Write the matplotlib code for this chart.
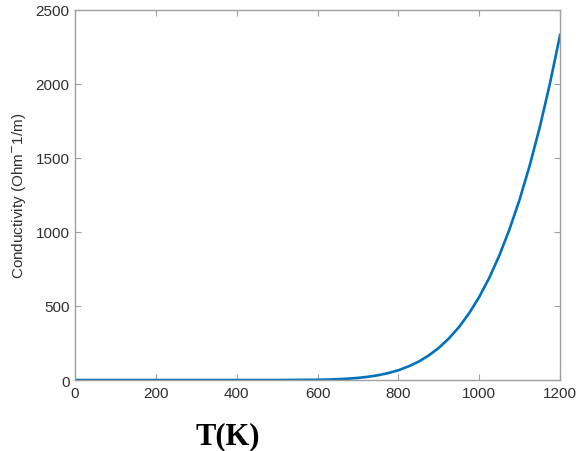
import matplotlib
matplotlib.use("Agg")
from matplotlib import pyplot as plt

# temperature (K) and conductivity (Ohm^-1/m)
T = [0, 100, 200, 300, 400, 500, 600, 625, 650, 675, 700, 725, 750, 775, 800,
     825, 850, 875, 900, 925, 950, 975, 1000, 1025, 1050, 1075, 1100, 1125,
     1150, 1175, 1200]
sigma = [0, 0, 0, 0, 0, 0.1, 1.9, 3.3, 5.6, 9.2, 14.4, 22, 32.5, 47, 66,
         92, 124, 166, 217, 281, 358, 451, 561, 691, 843, 1019, 1220, 1450,
         1710, 2004, 2330]

xticks = [0, 200, 400, 600, 800, 1000, 1200]
yticks = [0, 500, 1000, 1500, 2000, 2500]

axis_grey = "#a0a0a0"
text_grey = "#303030"

fig = plt.figure(figsize=(5.81, 4.52), dpi=100)
ax = fig.add_axes([0.129, 0.157, 0.835, 0.819])

ax.plot(T, sigma, color="#0072BD", linewidth=1.9)

ax.set_xlim(0, 1200)
ax.set_ylim(0, 2500)
ax.set_xticks(xticks)
ax.set_yticks(yticks)
ax.tick_params(direction="in", length=4, width=0.8, colors=axis_grey,
               labelcolor=text_grey, labelsize=11, top=True, right=True, pad=4)
for tl in ax.get_xticklabels() + ax.get_yticklabels():
    tl.set_family("Liberation Sans")
for s in ax.spines.values():
    s.set_color(axis_grey)
    s.set_linewidth(1.0)

ax.set_ylabel("Conductivity (Ohm$^{-}$1/m)", family="Liberation Sans",
              fontsize=11, color=text_grey, labelpad=5)

fig.text(228 / 581, 0.017, "T(K)", family="Liberation Serif", weight="bold",
         fontsize=22, ha="center", va="baseline", color="black")

fig.savefig("out.png", dpi=100)
